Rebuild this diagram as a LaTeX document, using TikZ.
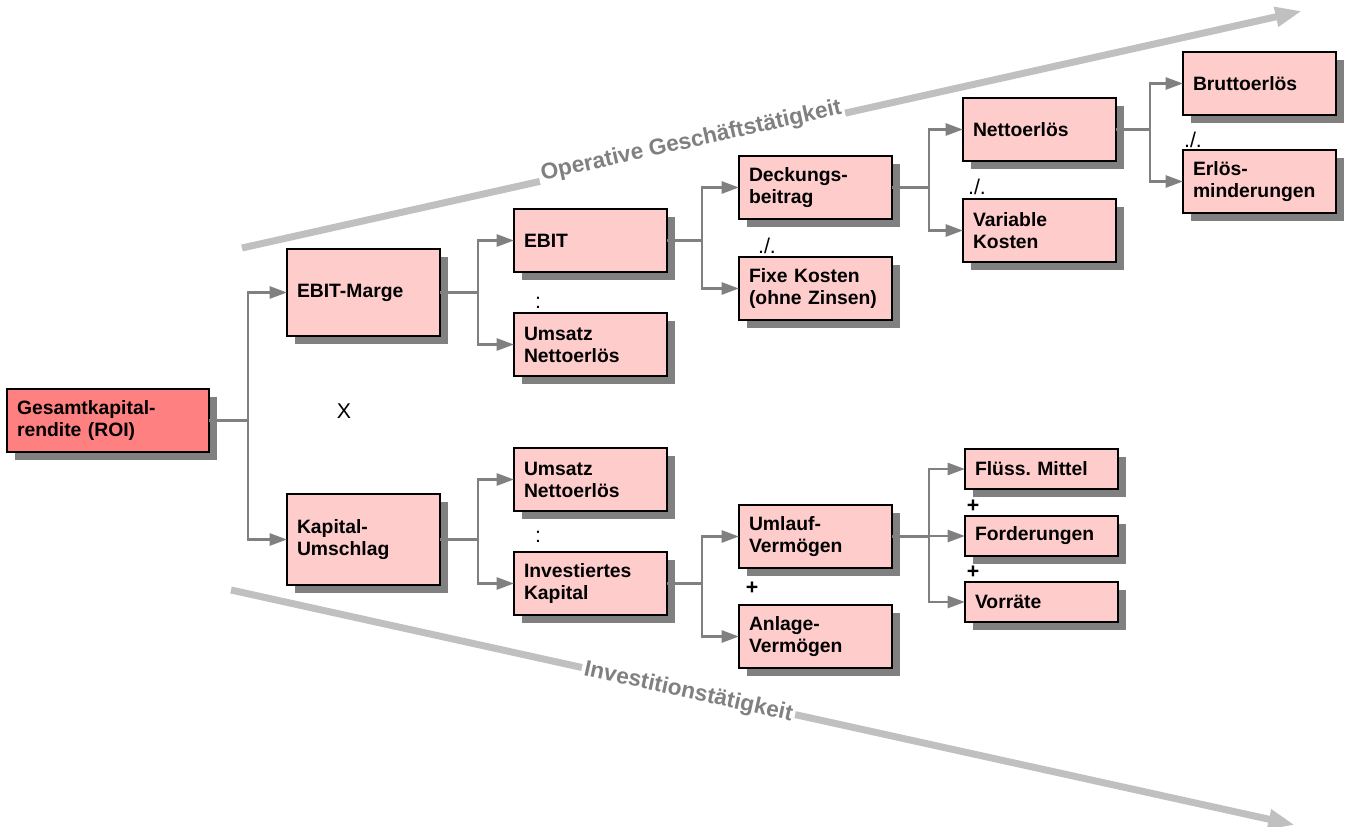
\documentclass[tikz,border=0pt]{standalone}
\usepackage{fontspec}
\setmainfont{Liberation Sans}
\usetikzlibrary{arrows.meta,shadows}

\definecolor{boxpink}{HTML}{FFCCCC}
\definecolor{rootred}{HTML}{FF8080}
\definecolor{shadowgray}{HTML}{808080}
\definecolor{flowgray}{HTML}{C0C0C0}

\begin{document}
\begin{tikzpicture}[
    x=0.75pt,y=-0.75pt,
    itembox/.style={rectangle,draw,line width=0.8pt,fill=boxpink,outer sep=0pt,inner xsep=7.5pt,inner ysep=0pt,
      text width=99.75pt,minimum width=114.75pt,minimum height=47.25pt,align=left,
      font=\bfseries\fontsize{14.5}{16.5}\selectfont,
      drop shadow={shadow xshift=6pt,shadow yshift=-6pt,fill=shadowgray,opacity=1}},
    rootbox/.style={itembox,fill=rootred,text width=136.5pt,minimum width=151.5pt},
    tallbox/.style={itembox,minimum height=65.25pt},
    smallbox/.style={itembox,minimum height=30pt},
    opsign/.style={inner sep=0pt,font=\fontsize{16}{18}\selectfont},
    linkarrow/.style={draw=shadowgray,line width=2pt,-{Triangle[length=13pt,width=9pt]}},
    flowarrow/.style={draw=flowgray,line width=5.25pt,-{Triangle[length=20pt,width=14pt]}},
    flowlabel/.style={sloped,fill=white,inner sep=2pt,text=shadowgray,font=\bfseries\fontsize{17}{19}\selectfont}
    ]

    \useasboundingbox (0,0) rectangle (1347,827);

    \coordinate (opstart) at (242,248);
    \coordinate (opend) at (1302,11);
    \coordinate (invstart) at (231,590);
    \coordinate (invend) at (1295,825);

    \draw[flowarrow] (opstart) -- node[flowlabel,pos=0.425,anchor=base] {Operative Geschäftstätigkeit} (opend);
    \draw[flowarrow] (invstart) -- node[flowlabel,pos=0.43,yshift=-1pt] {Investitionstätigkeit} (invend);

    \node (roi) [rootbox,anchor=north west] at (7,389) {Gesamtkapital-\\rendite (ROI)};

    \node (marge) [tallbox,anchor=north west] at (287,249) {EBIT-Marge};
    \node (umschlag) [tallbox,anchor=north west,minimum height=68.25pt] at (287,494) {Kapital-\\Umschlag};

    \node (ebit) [itembox,anchor=north west] at (514,209) {EBIT};
    \node (umsatzA) [itembox,anchor=north west] at (514,313) {Umsatz\\Nettoerlös};
    \node (umsatzB) [itembox,anchor=north west] at (514,448) {Umsatz\\Nettoerlös};
    \node (kapital) [itembox,anchor=north west] at (514,552) {Investiertes\\Kapital};

    \node (db) [itembox,anchor=north west] at (739,156) {Deckungs-\\beitrag};
    \node (fix) [itembox,anchor=north west] at (739,257) {Fixe Kosten\\(ohne Zinsen)};
    \node (umlauf) [itembox,anchor=north west] at (739,505) {Umlauf-\\Vermögen};
    \node (anlage) [itembox,anchor=north west] at (739,605) {Anlage-\\Vermögen};

    \node (netto) [itembox,anchor=north west] at (963,98) {Nettoerlös};
    \node (varkost) [itembox,anchor=north west] at (963,199) {Variable\\Kosten};
    \node (mittel) [smallbox,anchor=north west] at (965,449) {Flüss.\ Mittel};
    \node (ford) [smallbox,anchor=north west] at (965,516) {Forderungen};
    \node (vorr) [smallbox,anchor=north west] at (965,582) {Vorräte};

    \node (brutto) [itembox,anchor=north west] at (1183,52) {Bruttoerlös};
    \node (erloes) [itembox,anchor=north west] at (1183,150) {Erlös-\\minderungen};

    \foreach \from/\to/\dx in {roi/marge/39,roi/umschlag/39,marge/ebit/38,marge/umsatzA/38,
        umschlag/umsatzB/38,umschlag/kapital/38,ebit/db/35,ebit/fix/35,kapital/umlauf/35,kapital/anlage/35,
        db/netto/37,db/varkost/37,netto/brutto/34,netto/erloes/34,umlauf/mittel/37,umlauf/ford/37,umlauf/vorr/37}
      \draw[linkarrow] (\from.east) -- ++(\dx,0) |- (\to.west);

    \node (times) [opsign] at (344,411) {X};
    \node (div1) [opsign] at (538,303) {:};
    \node (div2) [opsign] at (538,537) {:};
    \node (minus1) [opsign] at (767,246) {./.};
    \node (minus2) [opsign] at (977,187) {./.};
    \node (minus3) [opsign] at (1193,140) {./.};
    \node (plus1) [opsign,font=\bfseries\fontsize{16}{18}\selectfont] at (752,588) {+};
    \node (plus2) [opsign,font=\bfseries\fontsize{16}{18}\selectfont] at (973,506) {+};
    \node (plus3) [opsign,font=\bfseries\fontsize{16}{18}\selectfont] at (973,572) {+};

  \end{tikzpicture}
\end{document}
